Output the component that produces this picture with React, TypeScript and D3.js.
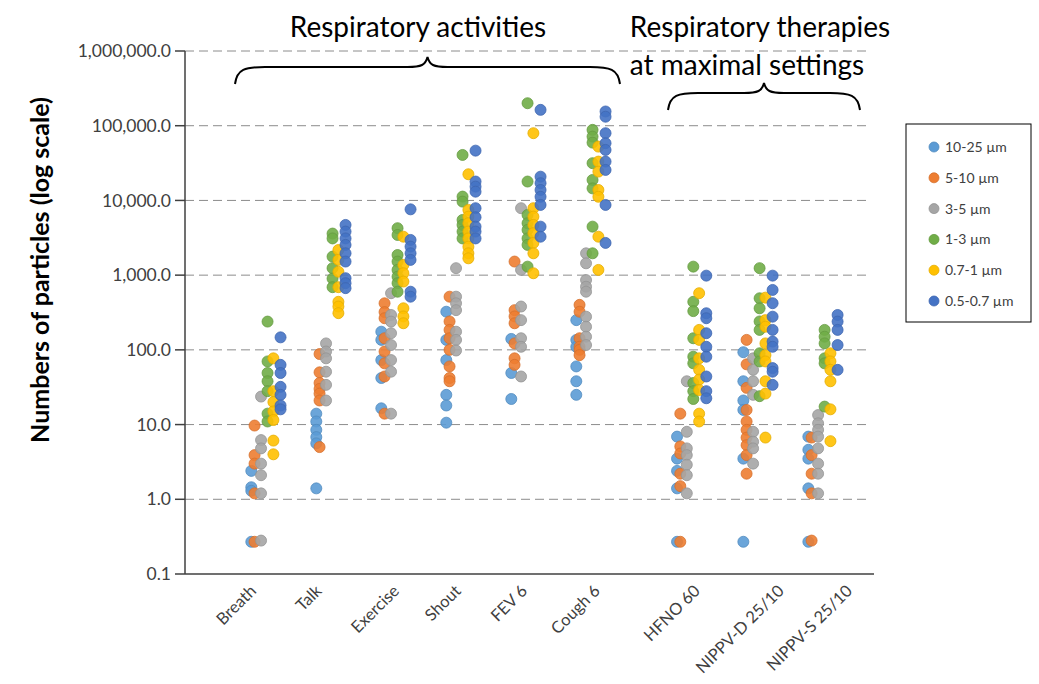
import React from 'react'
import * as d3 from 'd3'

// categories (x positions in axis units, therapies shifted right)
const categories = ['Breath', 'Talk', 'Exercise', 'Shout', 'FEV 6', 'Cough 6', 'HFNO 60', 'NIPPV-D 25/10', 'NIPPV-S 25/10']
const catPos = [1, 2, 3, 4, 5, 6, 7.55, 8.57, 9.57]
const labelPos = [1.11, 2.12, 3.31, 4.26, 5.28, 6.4, 7.94, 9.23, 10.28]

const seriesNames = ['10-25 µm', '5-10 µm', '3-5 µm', '1-3 µm', '0.7-1 µm', '0.5-0.7 µm']
const seriesColors = ['#5B9BD5', '#ED7D31', '#A5A5A5', '#70AD47', '#FFC000', '#4472C4']
const seriesOffset = [0.02, 0.07, 0.17, 0.27, 0.36, 0.47]

// values per category, one array per size bin
const um10_25 = [
  [2.4, 1.45, 1.3, 0.27],
  [14, 11, 8.5, 6.8, 5.6, 1.4],
  [175, 136, 73, 42, 16.5],
  [324, 136, 73, 25, 18, 10.6],
  [140, 49, 22],
  [250, 136, 110, 60, 38, 25],
  [6.9, 3.5, 2.4, 1.4, 0.27],
  [93, 38, 21, 15.7, 3.5, 0.27],
  [6.9, 4.6, 3.5, 1.4, 0.27],
]
const um5_10 = [
  [9.7, 3.9, 3.0, 1.2, 0.27],
  [88, 50, 36, 30, 26, 21, 5.0],
  [420, 320, 265, 143, 95, 66, 44, 14],
  [515, 240, 185, 143, 100, 60, 42, 38],
  [1520, 340, 280, 227, 122, 77, 63],
  [400, 324, 143, 110, 100, 85],
  [14, 5.1, 4.1, 2.2, 1.5, 0.27],
  [136, 64, 31, 15.7, 11, 8.5, 6.7, 5.3, 3.9, 2.2],
  [6.7, 3.9, 2.2, 1.2, 0.28],
]
const um3_5 = [
  [23.7, 6.2, 4.8, 3.0, 2.1, 1.2, 0.28],
  [122, 95, 77, 51, 34, 21],
  [573, 293, 239, 167, 116, 73, 51, 14],
  [1240, 515, 420, 340, 175, 136, 98],
  [7870, 1175, 380, 250, 143, 110, 44],
  [1960, 1440, 860, 700, 600, 278, 204, 150, 116],
  [38, 8.0, 4.8, 3.9, 2.9, 2.1, 1.2],
  [77, 54, 38, 25, 8.0, 5.9, 4.8, 3.0],
  [13.4, 10.4, 8.5, 6.9, 4.8, 3.0, 2.2, 1.2],
]
const um1_3 = [
  [239, 70, 49, 38, 28, 14, 11],
  [3600, 3100, 1770, 1240, 900, 690],
  [4250, 3450, 1860, 1520, 1175, 955, 780, 600],
  [40600, 11250, 9640, 5480, 4700, 3830, 3100],
  [200000, 17900, 6400, 4950, 4030, 3100, 2540, 1300],
  [88000, 71500, 59400, 31500, 18800, 14500, 4460, 1960],
  [1300, 440, 330, 143, 81, 66, 36, 28, 22],
  [1240, 490, 360, 240, 185, 90, 70, 24],
  [185, 150, 122, 77, 66, 17.4],
]
const um07_1 = [
  [77, 28, 20, 15, 11.5, 6.1, 4.0],
  [2170, 1600, 1110, 690, 440, 380, 310],
  [3270, 1370, 1060, 820, 360, 280, 227],
  [22400, 7470, 6070, 4950, 3830, 3100, 2400, 1960, 1680],
  [79400, 7870, 6070, 4700, 3640, 2700, 1960, 1060],
  [52500, 33100, 24300, 13800, 11200, 3270, 1175],
  [573, 185, 136, 77, 54, 40, 29, 14, 11],
  [500, 250, 204, 122, 85, 70, 38, 26, 6.7],
  [90, 70, 54, 38, 16, 6.0],
]
const um05_07 = [
  [147, 63, 49, 32, 25, 18, 16],
  [4700, 3830, 3100, 2540, 1960, 1520, 910, 780, 670],
  [7600, 2960, 2410, 1960, 1600, 600, 515],
  [46400, 17900, 15300, 13100, 7870, 5960, 4460, 3830, 3100],
  [163000, 20800, 17000, 13800, 11200, 8700, 4460, 3270],
  [155000, 132000, 79400, 58300, 47400, 33100, 25600, 8700, 2700],
  [985, 309, 265, 167, 110, 81, 44, 28, 22.5],
  [985, 634, 421, 278, 185, 129, 110, 57, 51, 34],
  [293, 239, 185, 116, 54],
]
const allSeries = [um10_25, um5_10, um3_5, um1_3, um07_1, um05_07]

const yTicks = [0.1, 1, 10, 100, 1000, 10000, 100000, 1000000]

const font = 'Lato, "Open Sans", sans-serif'

export default function App() {
  const W = 1039
  const H = 684
  const left = 185
  const top = 51
  const bottom = 574
  const x = d3.scaleLinear().domain([0, 10.6]).range([left, left + 10.6 * 65])
  const y = d3.scaleLog().domain([0.1, 1000000]).range([bottom, top])
  const fmt = d3.format(',.1f')
  const gridEnd = x(10.48)
  const axisEnd = x(10.6)

  const bracePath = (x0: number, x1: number, yb: number, yt: number) => {
    const xm = (x0 + x1) / 2
    const ym = yt + 10
    return `M${x0},${yb} C${x0 + 2},${ym + 2} ${x0 + 10},${ym} ${x0 + 30},${ym} L${xm - 20},${ym} C${xm - 6},${ym} ${xm - 2},${ym - 2} ${xm},${yt} C${xm + 2},${ym - 2} ${xm + 6},${ym} ${xm + 20},${ym} L${x1 - 30},${ym} C${x1 - 10},${ym} ${x1 - 2},${ym + 2} ${x1},${yb}`
  }

  return (
    <svg width={W} height={H} style={{ position: 'absolute', left: 0, top: 0, background: '#fff' }} fontFamily={font}>
      {/* gridlines */}
      {yTicks.slice(1).map((t) => (
        <line key={'g' + t} x1={left} x2={gridEnd} y1={y(t)} y2={y(t)} stroke="#8c8c8c" strokeWidth={1} strokeDasharray="9,5" />
      ))}
      {/* y axis */}
      <line x1={left} x2={left} y1={top} y2={bottom} stroke="#404040" strokeWidth={1.5} />
      {yTicks.map((t) => (
        <g key={'t' + t}>
          <line x1={left - 10} x2={left} y1={y(t)} y2={y(t)} stroke="#404040" strokeWidth={1.5} />
          <text x={left - 14} y={y(t)} dy="0.35em" textAnchor="end" fontSize={17.5} fill="#404040">
            {fmt(t)}
          </text>
        </g>
      ))}
      {/* x axis */}
      <line x1={left} x2={axisEnd} y1={bottom} y2={bottom} stroke="#404040" strokeWidth={1.5} />
      {categories.map((c, i) => (
        <text key={c} transform={`translate(${x(labelPos[i])},${bottom + 18}) rotate(-45)`} textAnchor="end" fontSize={16.5} fill="#404040">
          {c}
        </text>
      ))}
      {/* y title */}
      <text transform={`translate(49,270) rotate(-90)`} textAnchor="middle" fontSize={25} fontWeight="bold" fill="#000">
        Numbers of particles (log scale)
      </text>
      {/* points */}
      {allSeries.map((s, si) => (
        <g key={'s' + si}>
          {s.map((vals, ci) =>
            vals.map((v, k) => (
              <circle key={ci + '-' + k} cx={x(catPos[ci] + seriesOffset[si])} cy={y(v)} r={5.5}
                fill={seriesColors[si]} fillOpacity={0.9} stroke={d3.color(seriesColors[si])!.darker(0.3).toString()} strokeWidth={0.8} />
            ))
          )}
        </g>
      ))}
      {/* group titles and braces */}
      <text x={418} y={37} textAnchor="middle" fontSize={28} fill="#000">Respiratory activities</text>
      <path d={bracePath(235, 620, 84, 57)} fill="none" stroke="#000" strokeWidth={2} />
      <text x={760} y={37} textAnchor="middle" fontSize={28} fill="#000">Respiratory therapies</text>
      <text x={747} y={75} textAnchor="middle" fontSize={28} fill="#000">at maximal settings</text>
      <path d={bracePath(668, 860, 110, 83)} fill="none" stroke="#000" strokeWidth={2} />
      {/* legend */}
      <rect x={906} y={124} width={125} height={198} fill="#fff" stroke="#000" strokeWidth={1} />
      {seriesNames.map((n, i) => (
        <g key={n} transform={`translate(934,${147 + i * 30.8})`}>
          <circle r={5} fill={seriesColors[i]} stroke={d3.color(seriesColors[i])!.darker(0.3).toString()} strokeWidth={0.8} />
          <text x={11} dy="0.35em" fontSize={14} fill="#404040">{n}</text>
        </g>
      ))}
    </svg>
  )
}
